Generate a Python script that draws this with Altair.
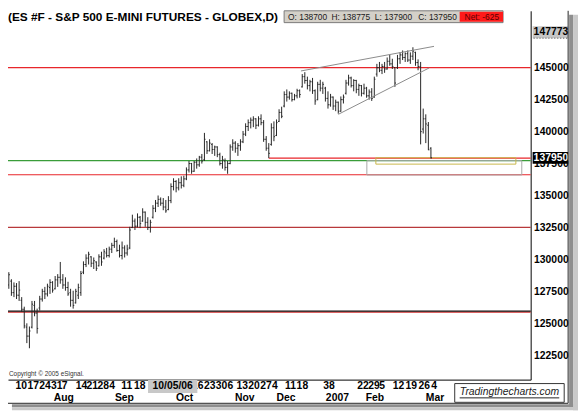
import json
import altair as alt
import pandas as pd

# ---------------- data (ES daily bars, index points) ----------------
OPEN = [1287,1283,1286,1280,1283,1274,1279,1272,1268,1261,
        1247,1240,1247,1264,1258,1262,1269,1275,1273,1278,
        1282,1277,1284,1286,1284,1280,1278,1274,1268,1266,
        1272,1274,1290,1296,1301,1302,1297,1298,1295,1302,
        1301,1305,1303,1308,1311,1314,1307,1303,1309,1305,
        1309,1325,1330,1326,1333,1330,1337,1329,1325,1333,
        1340,1344,1347,1344,1341,1339,1346,1357,1361,1356,
        1360,1358,1363,1370,1375,1369,1376,1374,1380,1378,
        1392,1385,1390,1386,1388,1382,1375,1377,1372,1375,
        1388,1391,1387,1389,1392,1398,1404,1407,1409,1410,
        1405,1410,1407,1394,1387,1390,1403,1397,1408,1415,
        1420,1429,1427,1430,1425,1428,1432,1435,1443,1440,
        1436,1439,1432,1425,1437,1434,1434,1426,1421,1427,
        1420,1423,1416,1425,1430,1438,1442,1436,1440,1433,
        1436,1430,1434,1428,1431,1427,1445,1450,1448,1451,
        1449,1455,1453,1450,1450,1457,1460,1458,1461,1456,
        1459,1462,1454,1451,1402,1410,1405,1387]
HIGH = [1289,1288.5,1287.5,1290,1284.5,1282,1281.5,1283,1270.5,1263,
        1250,1247.5,1267.5,1267.5,1261.5,1271.5,1277,1278.5,1281,1284.5,
        1283,1287,1288.5,1298,1288.5,1286,1282.5,1277,1275.5,1277,
        1281,1291,1298.5,1304,1306,1302.5,1301.5,1298.5,1304,1306,
        1308,1309,1310,1313,1317,1315.5,1311.5,1314,1311,1311.5,
        1325.5,1335,1332,1336,1334,1340,1337.5,1333,1331,1342.5,
        1346.5,1350,1348.5,1348,1346.5,1349.5,1359.5,1363.5,1362,1363.5,
        1365,1365.5,1372,1377,1375.5,1377,1379,1381,1382.5,1399,
        1392.5,1394,1391,1389,1388.5,1383.5,1381,1379,1377,1390,
        1394,1392.5,1391,1394,1400.5,1406.5,1409.5,1411,1412,1410.5,
        1412,1413.5,1409,1396.5,1391,1406.5,1408,1409.5,1417.5,1419.5,
        1431.5,1433,1431.5,1430.5,1429.5,1433.5,1433,1445,1446.5,1443,
        1440.5,1442,1433,1439,1440.5,1439,1435,1431.5,1429.5,1427.5,
        1425,1423.5,1427.5,1429,1440.5,1444.5,1443,1441,1440.5,1437.5,
        1436.5,1437.5,1435,1433,1434,1443,1453,1454.5,1453,1454.5,
        1458,1460,1457,1450.5,1460,1462,1463.5,1462,1463.5,1462,
        1466,1462.5,1456.5,1454.5,1418,1413.5,1407.5,1387.75]
LOW = [1281.5,1281,1278.5,1277,1271.5,1270.5,1269,1267.5,1259,1246,
       1234.5,1230.5,1246,1255.5,1242,1260,1267,1269,1271,1273,
       1274,1276.5,1278.5,1281,1277,1275.5,1271.5,1263,1261.5,1265.5,
       1269,1271.5,1288.5,1294,1296,1294,1292.5,1291,1294.5,1295,
       1300,1301.5,1301.5,1305,1309,1306,1301.5,1300,1301.5,1303,
       1308,1324.5,1323,1325,1324.5,1329.5,1325.5,1323,1321,1332,
       1337,1341,1342,1338.5,1336.5,1338.5,1344,1354,1352.5,1354,
       1355.5,1356.5,1362,1368,1367,1368.5,1371,1372.5,1375,1377,
       1382.5,1384.5,1382.5,1381,1380,1373.5,1371,1369.5,1367,1374.5,
       1385,1383.5,1381,1385,1391,1396.5,1400.5,1402.5,1403.5,1402,
       1404,1405,1392,1385,1379.25,1389,1392.5,1396.5,1407.5,1410.5,
       1419,1423.5,1425,1423.5,1424.5,1426,1426.5,1434.5,1437.5,1433,
       1431.5,1429.5,1421,1424.5,1431.5,1429.5,1423.5,1418,1419.5,1417,
       1416,1414,1415.5,1422,1429,1436,1434.5,1431.5,1430,1428,
       1427.5,1429,1426.5,1425,1424,1426.5,1443,1446.5,1445,1446,
       1448.5,1451.5,1449,1435,1449,1453,1456,1454.5,1454.5,1453,
       1456,1451.5,1448,1390,1398.5,1391,1385.5,1379]
CLOSE = [1283,1286,1280,1288,1274,1279,1272,1276,1261,1248,
         1240,1244,1265,1258,1246,1269,1275,1273,1279,1282,
         1276,1284,1286,1284,1280,1278,1273,1268,1264,1275,
         1278,1289,1296,1301,1304,1297,1299,1293,1302,1298,
         1306,1303,1308,1311,1314,1307,1303,1309,1305,1308,
         1323,1330,1326,1333,1328,1337,1329,1325,1329,1340,
         1344,1347,1344,1341,1338,1346,1357,1361,1356,1360,
         1358,1363,1370,1375,1369,1376,1374,1380,1377,1394,
         1385,1391,1386,1388,1382,1375,1378,1372,1375,1388,
         1391,1387,1389,1392,1398,1404,1407,1409,1410,1405,
         1410,1407,1394,1387,1383,1403,1396,1407,1415,1412,
         1429,1427,1430,1425,1428,1432,1429,1443,1440,1436,
         1439,1432,1424,1437,1434,1437,1426,1421,1427,1420,
         1423,1416,1425,1427,1438,1442,1436,1440,1433,1436,
         1430,1434,1428,1431,1426,1441,1450,1448,1451,1449,
         1455,1453,1451,1438,1457,1460,1458,1461,1456,1459,
         1463,1454,1451,1400,1410,1406,1385.75,1379.5]

# x-axis tick labels (positions in bar-index units)
DAY_TICK_POS = [7.66, 12.26, 16.86, 21.46, 24.52, 31.03, 35.25, 39.46, 42.91, 48.66,
                53.64, 76.25, 80.84, 85.44, 88.89, 93.49, 98.08, 102.68, 106.13, 112.26,
                116.86, 126.05, 128.35, 140.42, 144.64, 147.89, 154.21, 159.2, 164.18, 168.01]
DAY_TICK_TXT = ["10", "17", "24", "31", "7", "14", "21", "28", "4", "11",
                "18", "16", "23", "30", "6", "13", "20", "27", "4", "11",
                "18", "3", "8", "22", "29", "5", "12", "19", "26", "4"]
MONTH_POS = [24.33, 47.89, 71.26, 94.64, 110.73, 130.65, 145.21, 168.58]
MONTH_TXT = ["Aug", "Sep", "Oct", "Nov", "Dec", "2007", "Feb", "Mar"]
Y_TICKS = [122500, 125000, 127500, 130000, 132500, 135000, 137500, 140000, 142500, 145000]

LEVEL_PRICE = [145000, 137725, 136625, 132500, 125875, 125950]
LEVEL_COLOR = ["#e8262b", "#3a9d3a", "#e8262b", "#b8393b", "#d03030", "#111111"]

SUPPORT_PRICE = 137925
SUPPORT_FROM = 104

TREND_ID = ["upper", "upper", "lower", "lower"]
TREND_IDX = [116.5, 168.2, 131.0, 166.3]
TREND_PRICE = [144745, 146670, 141350, 144980]

BOX_X1 = [142.1, 145.6]
BOX_X2 = [202.3, 200.0]
BOX_P1 = [136605, 137455]
BOX_P2 = [137725, 137955]
BOX_COLOR = ["#a8a8a8", "#c9b84a"]

TAG_VALUE = [147773, 137950]
TAG_BG = ["#c6c6c6", "#000000"]
TAG_FG = ["#000000", "#ffffff"]

CURSOR_DATE = "10/05/06"
TITLE = "(ES #F - S&P 500 E-MINI FUTURES - GLOBEX,D)"
INFO_TXT = ["O: 138700", "H: 138775", "L: 137900", "C: 137950"]
NET_TXT = "Net: -625"
COPYRIGHT = "Copyright \u00a9 2005 eSignal."
WATERMARK = "Tradingthecharts.com"

# ---------------- layout / style ----------------
W, H = 530, 374
XMIN, XMAX = 2.682, 205.747
YMIN, YMAX = 120594, 149452
PX = (YMAX - YMIN) / H
FONT = "Liberation Sans"
BAR_COLOR = "#262626"

xs = alt.Scale(domain=[XMIN, XMAX], nice=False, zero=False)
ys = alt.Scale(domain=[YMIN, YMAX], nice=False, zero=False)

label_expr = "%s[indexof(%s, datum.value)]" % (json.dumps(DAY_TICK_TXT), json.dumps(DAY_TICK_POS))
X_AXIS = alt.Axis(values=DAY_TICK_POS, labelExpr=label_expr, orient="bottom", ticks=False,
                  domain=True, domainColor="#000000", domainWidth=1, grid=False, title=None,
                  labelFont=FONT, labelFontSize=10.5, labelFontWeight="bold", labelColor="#000000",
                  labelPadding=1, labelOverlap=False, labelFlush=False, labelBaseline="top")
Y_AXIS = alt.Axis(values=Y_TICKS, orient="right", format="d", ticks=False, domain=True,
                  domainColor="#000000", domainWidth=1, grid=False, title=None,
                  labelFont=FONT, labelFontSize=10.5, labelFontWeight="bold", labelColor="#000000",
                  labelAlign="left", labelPadding=3, labelOverlap=False, labelFlush=False)

bars = pd.DataFrame({
    "idx": list(range(len(OPEN))),
    "open": [v * 100 for v in OPEN],
    "high": [v * 100 for v in HIGH],
    "low": [v * 100 for v in LOW],
    "close": [v * 100 for v in CLOSE],
})
bars["xo"] = bars["idx"] - 0.42
bars["xc"] = bars["idx"] + 0.42

X = lambda f: alt.X(f, scale=xs, axis=X_AXIS)
Y = lambda f: alt.Y(f, scale=ys, axis=Y_AXIS)

levels = alt.Chart(pd.DataFrame({"price": LEVEL_PRICE, "color": LEVEL_COLOR})).mark_rule(
    strokeWidth=1.2).encode(y=Y("price:Q"), color=alt.Color("color:N", scale=None),
                           x=alt.value(0), x2=alt.value(W))

support = alt.Chart(pd.DataFrame({"start": [SUPPORT_FROM], "price": [SUPPORT_PRICE]})).mark_rule(
    color="#e8262b", strokeWidth=1.2).encode(x=X("start:Q"), x2=alt.value(W), y=Y("price:Q"))

boxes = alt.Chart(pd.DataFrame({"x1": BOX_X1, "x2": BOX_X2, "p1": BOX_P1, "p2": BOX_P2,
                                "c": BOX_COLOR})).mark_rect(
    fillOpacity=0, strokeWidth=1).encode(x=X("x1:Q"), x2="x2:Q", y=Y("p1:Q"), y2="p2:Q",
                                         stroke=alt.Color("c:N", scale=None))

base = alt.Chart(bars)
hl = base.mark_rule(color=BAR_COLOR, strokeWidth=1, clip=True).encode(
    x=X("idx:Q"), y=Y("low:Q"), y2="high:Q")
op = base.mark_rule(color=BAR_COLOR, strokeWidth=1, clip=True).encode(
    x=X("xo:Q"), x2="idx:Q", y=Y("open:Q"))
cl = base.mark_rule(color=BAR_COLOR, strokeWidth=1, clip=True).encode(
    x=X("idx:Q"), x2="xc:Q", y=Y("close:Q"))

trend = alt.Chart(pd.DataFrame({"id": TREND_ID, "idx": TREND_IDX, "price": TREND_PRICE})).mark_line(
    color="#8a8a8a", strokeWidth=1).encode(x=X("idx:Q"), y=Y("price:Q"), detail="id:N")

months = alt.Chart(pd.DataFrame({"idx": MONTH_POS, "txt": MONTH_TXT})).mark_text(
    font=FONT, fontSize=10.5, fontWeight="bold", color="#000000", align="center",
    baseline="middle").encode(x=X("idx:Q"), y=alt.value(392.5), text="txt:N")

tags_df = pd.DataFrame({"v": TAG_VALUE, "bg": TAG_BG, "fg": TAG_FG})
tags_df["lo"] = tags_df["v"] - 6 * PX
tags_df["hi"] = tags_df["v"] + 6 * PX
tag_rect = alt.Chart(tags_df).mark_rect().encode(
    x=alt.value(W + 2), x2=alt.value(W + 38), y=Y("lo:Q"), y2="hi:Q",
    color=alt.Color("bg:N", scale=None))
tag_text = alt.Chart(tags_df).mark_text(font=FONT, fontSize=10.5, fontWeight="bold", align="left",
                                        baseline="middle").encode(
    x=alt.value(W + 3), y=Y("v:Q"), text=alt.Text("v:Q", format="d"),
    color=alt.Color("fg:N", scale=None))
tag_dots = alt.Chart(tags_df.iloc[:1]).mark_rule(color="#444444", strokeWidth=1,
                                                  strokeDash=[1, 2]).encode(
    x=alt.value(W + 3), x2=alt.value(W + 37), y=Y("lo:Q"))

one = pd.DataFrame({"k": [0]})


def rect(x1, x2, y1, y2, fill, stroke=None):
    kw = {"fill": fill}
    if stroke:
        kw["stroke"] = stroke
        kw["strokeWidth"] = 1
    return alt.Chart(one).mark_rect(**kw).encode(
        x=alt.value(x1), x2=alt.value(x2), y=alt.value(y1), y2=alt.value(y2))


def text(x, y, s, **kw):
    return alt.Chart(one).mark_text(font=FONT, **kw).encode(
        x=alt.value(x), y=alt.value(y), text=alt.value(s))


def hrule(x1, x2, y, color):
    return alt.Chart(one).mark_rule(color=color, strokeWidth=1).encode(
        x=alt.value(x1), x2=alt.value(x2), y=alt.value(y))


def vrule(x, y1, y2, color):
    return alt.Chart(one).mark_rule(color=color, strokeWidth=1).encode(
        x=alt.value(x), y=alt.value(y1), y2=alt.value(y2))


# header
title = text(0, 1, TITLE, fontSize=12, fontWeight="bold", color="#000000", align="left", baseline="top")
info_box = rect(280, 502, 0, 12, "#d4d0c8", "#7a7a7a")
net_box = rect(458, 502, 1, 11, "#ff1a1a")
info_x = [284, 328, 372, 416]
info_txt = [text(x, 6.5, s, fontSize=8.5, color="#1a1a1a", align="left", baseline="middle")
            for x, s in zip(info_x, INFO_TXT)]
net_txt = text(463, 6.5, NET_TXT, fontSize=8.5, color="#5a0000", align="left", baseline="middle")

# bottom decorations
copyright_txt = text(1, 368, COPYRIGHT, fontSize=6.5, color="#333333", align="left", baseline="middle")
cursor_box = rect(142, 192, 374.5, 387.5, "#c8c8c8")
cursor_txt = text(167, 381, CURSOR_DATE, fontSize=10.5, fontWeight="bold", color="#000000",
                  align="center", baseline="middle")
wm_box = rect(453, 564, 378, 397, "#ffffff", "#333333")
wm_txt = text(508.5, 386.5, WATERMARK, fontSize=10.5, fontStyle="italic", color="#222222",
              align="center", baseline="middle")
wm_line = hrule(458, 559, 392.5, "#222222")

# frame and shadow
frame_r = vrule(568, 0, 398, "#222222")
frame_b = hrule(0, 568, 398, "#222222")
sh1 = rect(569, 573, 4, 402, "#8e8e8e")
sh2 = rect(573, 578, 4, 405, "#c9c9c9")
sh3 = rect(4, 573, 399, 402, "#8e8e8e")
sh4 = rect(4, 578, 402, 405, "#c9c9c9")

chart = alt.layer(
    levels, support, boxes, hl, op, cl, trend, months,
    tag_rect, tag_text, tag_dots,
    title, info_box, net_box, *info_txt, net_txt,
    copyright_txt, cursor_box, cursor_txt,
    sh1, sh2, sh3, sh4, frame_r, frame_b,
    wm_box, wm_txt, wm_line,
).properties(
    width=W, height=H,
    padding={"left": 0, "top": 0, "right": 48, "bottom": 31},
    autosize=alt.AutoSizeParams(type="none"),
    background="#ffffff",
).configure_view(stroke=None)

chart.save("out.html", embed_options={"renderer": "svg", "actions": False})
